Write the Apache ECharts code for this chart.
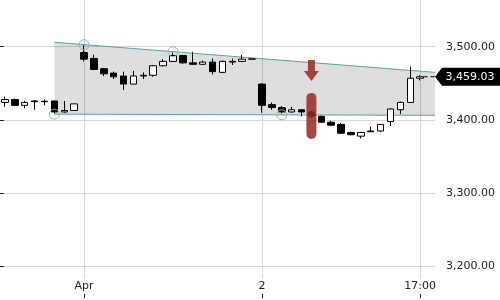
<!DOCTYPE html>
<html>
<head>
<meta charset="utf-8">
<script src="https://cdn.jsdelivr.net/npm/echarts@6/dist/echarts.min.js"></script>
<style>
    html, body { margin: 0; padding: 0; background: #fff; }
    #chart { width: 500px; height: 300px; }
</style>
</head>
<body>
<div id="chart"></div>
<script>
// 蜡烛数据
const opens  = [3424, 3428, 3420, 3426, 3425, 3426, 3411, 3413, 3492, 3484, 3470, 3464, 3460, 3449, 3460, 3461, 3474, 3480, 3488, 3478, 3476, 3479, 3465, 3479, 3480, 3483, 3449, 3421, 3417, 3411, 3414, 3411, 3405, 3397, 3394, 3383, 3378, 3385, 3385, 3398, 3414, 3424, 3457];
const closes = [3428, 3420, 3424, 3425, 3425.6, 3411, 3413, 3422, 3483, 3469, 3463, 3459, 3449, 3460, 3461, 3474, 3480, 3488, 3478, 3476, 3479, 3466, 3480, 3480, 3483, 3483.3, 3420, 3417, 3411, 3414, 3411, 3405, 3397, 3393, 3382, 3380, 3383, 3384, 3394, 3415, 3424, 3457, 3459.03];
const lows   = [3418, 3419, 3416, 3414, 3420, 3409, 3410, 3413, 3480, 3468, 3460, 3456, 3441, 3449, 3456, 3459, 3473, 3479, 3477, 3475, 3475, 3462, 3464, 3475, 3479, 3483, 3410, 3414, 3409, 3410, 3405, 3402, 3396, 3392, 3381, 3379, 3375, 3384, 3384, 3392, 3408, 3424, 3454];
const highs  = [3432, 3429, 3426, 3427, 3428, 3426, 3426, 3422, 3502, 3489, 3471, 3466, 3466, 3467, 3465, 3475, 3483, 3492, 3489, 3493, 3481, 3484, 3481, 3484, 3489, 3483.3, 3450, 3424, 3419, 3418, 3415, 3412, 3406, 3399, 3396, 3384, 3384, 3391, 3394, 3416, 3425, 3473, 3461];

// 时间轴刻度
const slotCount = 44;
const tickIndex = [8, 26, 42];
const tickLabels = ['Apr', '2', '17:00'];

// 价格轴
const priceMin = 3184.5;
const priceMax = 3563.7;
const priceTicks = [3200, 3300, 3400, 3500];
const lastPrice = 3459.03;

// 通道线
const trendX = [5.5, 44];
const upperTrend = [3506, 3465];
const lowerTrend = [3408, 3406.4];
const anchorIndex = [5, 8, 17, 28];
const anchorValue = [3408, 3502.7, 3493.2, 3407];

// 信号
const signalIndex = 31;
const signalArrow = 3467.5;
const signalRange = [3437, 3374];

const categories = [];
for (let i = 0; i < slotCount; i++) {
    const k = tickIndex.indexOf(i);
    categories.push(k >= 0 ? tickLabels[k] : '');
}
const candleData = opens.map((o, i) => [o, closes[i], lows[i], highs[i]]);
const anchors = anchorIndex.map((x, i) => [x, anchorValue[i]]);
const isTick = (i) => tickIndex.indexOf(i) >= 0;
const fmt = (v) => v.toLocaleString('en-US', {minimumFractionDigits: 2, maximumFractionDigits: 2});
const font = 'DejaVu Sans';
const red = 'rgba(150,40,35,0.85)';

let option = {
    animation: false,
    grid: {left: 0, right: 65, top: 0, bottom: 22},
    xAxis: [
        {
            type: 'category',
            data: categories,
            boundaryGap: true,
            axisLine: {show: false},
            axisTick: {show: false},
            axisLabel: {show: false},
            splitLine: {
                show: true,
                alignWithLabel: true,
                interval: (i) => isTick(i),
                lineStyle: {color: '#d6d6d6', width: 1}
            }
        },
        {
            type: 'category',
            data: categories,
            boundaryGap: true,
            position: 'bottom',
            offset: 20,
            axisLine: {show: false},
            axisTick: {
                show: true,
                inside: true,
                length: 4,
                alignWithLabel: true,
                interval: (i) => isTick(i),
                lineStyle: {color: '#222'}
            },
            axisLabel: {
                inside: true,
                margin: 6,
                interval: (i) => isTick(i),
                color: '#222',
                fontFamily: font,
                fontSize: 11
            },
            splitLine: {show: false}
        },
        {
            type: 'value',
            show: false,
            min: 0,
            max: slotCount
        }
    ],
    yAxis: {
        type: 'value',
        position: 'right',
        min: priceMin,
        max: priceMax,
        axisLine: {show: false},
        axisTick: {
            show: true,
            length: 4,
            customValues: priceTicks,
            lineStyle: {color: '#222'}
        },
        axisLabel: {
            margin: 11,
            customValues: priceTicks,
            color: '#222',
            fontFamily: font,
            fontSize: 11,
            formatter: fmt
        },
        splitLine: {
            show: true,
            lineStyle: {color: '#d6d6d6', width: 1}
        }
    },
    series: [
        {
            // 通道背景
            type: 'custom',
            xAxisIndex: 2,
            z: 1,
            silent: true,
            clip: false,
            encode: {x: [0, 1], y: [2, 3, 4, 5]},
            data: [[trendX[0], trendX[1], upperTrend[0], upperTrend[1], lowerTrend[0], lowerTrend[1]]],
            renderItem: function (params, api) {
                const p1 = api.coord([api.value(0), api.value(2)]);
                const p2 = api.coord([api.value(1), api.value(3)]);
                const p3 = api.coord([api.value(1), api.value(5)]);
                const p4 = api.coord([api.value(0), api.value(4)]);
                return {
                    type: 'polygon',
                    shape: {points: [p1, p2, p3, p4]},
                    style: {fill: 'rgba(0,0,0,0.13)'}
                };
            }
        },
        {
            type: 'line',
            xAxisIndex: 2,
            z: 2,
            symbol: 'none',
            data: [[trendX[0], upperTrend[0]], [trendX[1], upperTrend[1]]],
            lineStyle: {color: '#5a9fa3', width: 1}
        },
        {
            type: 'line',
            xAxisIndex: 2,
            z: 2,
            symbol: 'none',
            data: [[trendX[0], lowerTrend[0]], [trendX[1], lowerTrend[1]]],
            lineStyle: {color: '#5a9fa3', width: 1}
        },
        {
            type: 'candlestick',
            xAxisIndex: 0,
            z: 3,
            barWidth: 7,
            data: candleData,
            itemStyle: {
                color: '#ffffff',
                color0: '#000000',
                borderColor: '#000000',
                borderColor0: '#000000',
                borderWidth: 1
            }
        },
        {
            // 锚点
            type: 'scatter',
            xAxisIndex: 0,
            z: 4,
            symbol: 'circle',
            symbolSize: 10,
            data: anchors,
            itemStyle: {color: 'rgba(0,0,0,0)', borderColor: '#86b9bc', borderWidth: 1, opacity: 1}
        },
        {
            type: 'custom',
            xAxisIndex: 0,
            z: 5,
            silent: true,
            encode: {x: 0, y: [1, 2]},
            data: [[signalIndex, signalRange[0], signalRange[1]]],
            renderItem: function (params, api) {
                const top = api.coord([api.value(0), api.value(1)]);
                const bottom = api.coord([api.value(0), api.value(2)]);
                return {
                    type: 'rect',
                    shape: {x: top[0] - 5, y: top[1], width: 10, height: bottom[1] - top[1], r: 5},
                    style: {fill: red}
                };
            }
        },
        {
            type: 'scatter',
            xAxisIndex: 0,
            z: 5,
            symbol: 'path://M4,0 L11,0 L11,11 L15,11 L7.5,21 L0,11 L4,11 Z',
            symbolSize: [15, 21],
            data: [[signalIndex, signalArrow]],
            itemStyle: {color: red, opacity: 1}
        },
        {
            // 最新价虚线
            type: 'line',
            xAxisIndex: 2,
            z: 5,
            symbol: 'none',
            data: [[opens.length - 0.15, lastPrice], [slotCount, lastPrice]],
            lineStyle: {color: '#000', width: 1, type: [4, 3]}
        },
        {
            type: 'scatter',
            xAxisIndex: 2,
            z: 6,
            clip: false,
            symbol: 'path://M0,9 L7,0 L66,0 L66,18 L7,18 Z',
            symbolSize: [66, 18],
            symbolOffset: [33, 0],
            symbolKeepAspect: false,
            data: [[slotCount, lastPrice]],
            itemStyle: {color: '#000', opacity: 1},
            label: {
                show: true,
                position: 'inside',
                offset: [2, 0],
                formatter: (p) => fmt(p.value[1]),
                color: '#fff',
                fontFamily: font,
                fontSize: 11
            }
        }
    ]
};

let chart = echarts.init(document.getElementById('chart'));
chart.setOption(option);
</script>
</body>
</html>
